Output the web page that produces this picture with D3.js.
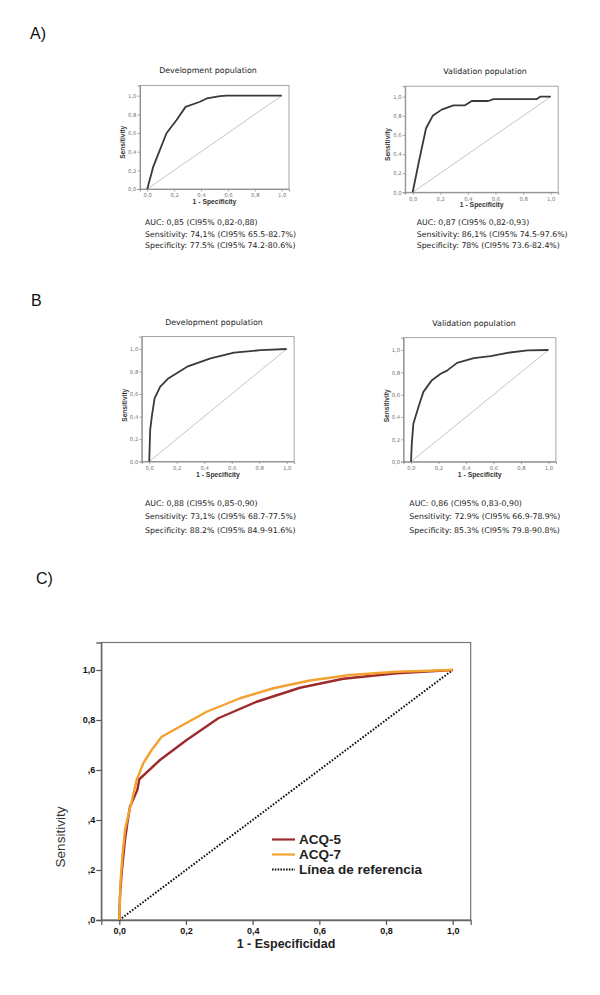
<!DOCTYPE html>
<html>
<head>
<meta charset="utf-8">
<script src="https://cdn.jsdelivr.net/npm/d3@7"></script>
<style>
  body { margin: 0; background: #fff; }
  svg { display: block; }
</style>
</head>
<body>
<svg id="chart" width="600" height="995"></svg>
<script>
// ROC points [1 - specificity, sensitivity]
const rocDevA = [[0, 0], [0.045, 0.24], [0.094, 0.42], [0.144, 0.6], [0.218, 0.74], [0.285, 0.88], [0.392, 0.935], [0.442, 0.97], [0.541, 0.995], [0.59, 1], [1, 1]];
const rocValA = [[0, 0], [0.048, 0.34], [0.097, 0.67], [0.145, 0.8], [0.21, 0.865], [0.295, 0.91], [0.379, 0.91], [0.428, 0.955], [0.548, 0.955], [0.585, 0.975], [0.899, 0.975], [0.923, 1], [1, 1]];
const rocDevB = [[0, 0], [0.007, 0.28], [0.02, 0.41], [0.039, 0.56], [0.08, 0.665], [0.141, 0.74], [0.276, 0.843], [0.446, 0.917], [0.617, 0.967], [0.812, 0.99], [1, 1]];
const rocValB = [[0, 0], [0.005, 0.15], [0.017, 0.34], [0.054, 0.49], [0.09, 0.625], [0.152, 0.73], [0.213, 0.785], [0.262, 0.815], [0.335, 0.885], [0.457, 0.928], [0.579, 0.946], [0.702, 0.975], [0.848, 0.996], [1, 1]];
const rocAcq5 = [[0, 0], [0.002, 0.093], [0.007, 0.187], [0.017, 0.32], [0.024, 0.387], [0.032, 0.453], [0.054, 0.52], [0.06, 0.563], [0.122, 0.64], [0.202, 0.72], [0.297, 0.807], [0.412, 0.873], [0.542, 0.929], [0.672, 0.965], [0.832, 0.987], [1, 1]];
const rocAcq7 = [[0, 0], [0.004, 0.16], [0.01, 0.267], [0.017, 0.36], [0.027, 0.42], [0.037, 0.473], [0.052, 0.56], [0.072, 0.627], [0.097, 0.68], [0.127, 0.733], [0.262, 0.833], [0.362, 0.887], [0.462, 0.927], [0.572, 0.958], [0.692, 0.98], [0.832, 0.993], [1, 1]];
const refLine = [[0, 0], [1, 1]];

const tickValues = [0, 0.2, 0.4, 0.6, 0.8, 1.0];
const smallTickLabels = ["0,0", "0,2", "0,4", "0,6", "0,8", "1,0"];
const cTickLabelsX = ["0,0", "0,2", "0,4", "0,6", "0,8", "1,0"];
const cTickLabelsY = [",0", ",2", ",4", ",6", "0,8", "1,0"];

const statsDevA = ["AUC: 0,85 (CI95% 0,82-0,88)", "Sensitivity: 74,1% (CI95% 65.5-82.7%)", "Specificity: 77.5% (CI95% 74.2-80.6%)"];
const statsValA = ["AUC: 0,87 (CI95% 0,82-0,93)", "Sensitivity: 86,1% (CI95% 74.5-97.6%)", "Specificity: 78% (CI95% 73.6-82.4%)"];
const statsDevB = ["AUC: 0,88 (CI95% 0,85-0,90)", "Sensitivity: 73,1% (CI95% 68.7-77.5%)", "Specificity: 88.2% (CI95% 84.9-91.6%)"];
const statsValB = ["AUC: 0,86 (CI95% 0,83-0,90)", "Sensitivity: 72.9% (CI95% 66.9-78.9%)", "Specificity: 85.3% (CI95% 79.8-90.8%)"];

const legendNames = ["ACQ-5", "ACQ-7", "Línea de referencia"];

const svg = d3.select("#chart");
const sans = "'DejaVu Sans', sans-serif";
const arial = "'Liberation Sans', Arial, sans-serif";

// section labels
[["A)", 30, 39], ["B", 31, 306], ["C)", 36, 584]].forEach(([t, x, y]) => {
  svg.append("text").attr("x", x).attr("y", y)
    .attr("font-family", arial).attr("font-size", 16).attr("fill", "#111").text(t);
});

// small SPSS-style ROC panel
function smallPanel(box, title, titleX, data, stats, statsX, statsY, statsGap) {
  const x = d3.scaleLinear().domain([-0.054, 1.054]).range([box.left, box.right]);
  const y = d3.scaleLinear().domain([0, 1.11]).range([box.bottom, box.top]);
  const g = svg.append("g");

  g.append("rect")
    .attr("x", box.left).attr("y", box.top)
    .attr("width", box.right - box.left).attr("height", box.bottom - box.top)
    .attr("fill", "none").attr("stroke", "#999").attr("stroke-width", 0.9);

  const yAxis = d3.axisLeft(y).tickValues(tickValues).tickSize(2.5)
    .tickFormat((d, i) => smallTickLabels[i]);
  const xAxis = d3.axisBottom(x).tickValues(tickValues).tickSize(2.5)
    .tickFormat((d, i) => smallTickLabels[i]);

  const ya = g.append("g").attr("transform", `translate(${box.left},0)`).call(yAxis);
  const xa = g.append("g").attr("transform", `translate(0,${box.bottom})`).call(xAxis);
  [ya, xa].forEach(a => {
    a.select(".domain").attr("stroke", "#888").attr("stroke-width", 0.9);
    a.selectAll(".tick line").attr("stroke", "#888").attr("stroke-width", 0.7);
    a.selectAll(".tick text").attr("font-family", sans).attr("font-size", 5.3).attr("fill", "#777");
  });
  ya.selectAll(".tick text").attr("x", -3.5);
  xa.selectAll(".tick text").attr("y", 4.5);

  g.append("path").datum(refLine)
    .attr("d", d3.line().x(d => x(d[0])).y(d => y(d[1])))
    .attr("fill", "none").attr("stroke", "#aaa").attr("stroke-width", 0.7);

  g.append("path").datum(data)
    .attr("d", d3.line().x(d => x(d[0])).y(d => y(d[1])))
    .attr("fill", "none").attr("stroke", "#3a3a3a").attr("stroke-width", 1.8)
    .attr("stroke-linejoin", "round");

  g.append("text")
    .attr("x", titleX).attr("y", box.top - 12)
    .attr("text-anchor", "middle").attr("font-family", sans).attr("font-size", 7.9)
    .attr("fill", "#222").text(title);

  g.append("text")
    .attr("x", (x(0) + x(1)) / 2).attr("y", box.bottom + 15)
    .attr("text-anchor", "middle").attr("font-family", arial).attr("font-weight", "bold")
    .attr("font-size", 6.8).attr("fill", "#333").text("1 - Specificity");

  g.append("text")
    .attr("transform", `translate(${box.left - 15},${(y(0) + y(1)) / 2}) rotate(-90)`)
    .attr("text-anchor", "middle").attr("font-family", arial).attr("font-weight", "bold")
    .attr("font-size", 6.6).attr("fill", "#333").text("Sensitivity");

  g.selectAll(".stat").data(stats).enter().append("text")
    .attr("x", statsX).attr("y", (d, i) => statsY + i * statsGap)
    .attr("font-family", sans).attr("font-size", 7.8).attr("fill", "#222").text(d => d);
}

smallPanel({ left: 140, right: 289, top: 85.4, bottom: 189 }, "Development population", 208, rocDevA, statsDevA, 145, 225, 11.7);
smallPanel({ left: 405.2, right: 558.2, top: 86.2, bottom: 192.3 }, "Validation population", 485, rocValA, statsValA, 416.7, 225, 11.7);
smallPanel({ left: 141.8, right: 294.1, top: 336.6, bottom: 461.5 }, "Development population", 214, rocDevB, statsDevB, 145, 505.5, 13.8);
smallPanel({ left: 403.6, right: 555.9, top: 337.7, bottom: 461.7 }, "Validation population", 474, rocValB, statsValB, 409.3, 505.5, 13.8);

// panel C
const cBox = { left: 101.3, right: 470.7, top: 642.5, bottom: 920 };
const cx = d3.scaleLinear().domain([-0.054, 1.054]).range([cBox.left, cBox.right]);
const cy = d3.scaleLinear().domain([0, 1.11]).range([cBox.bottom, cBox.top]);
const gc = svg.append("g");

gc.append("rect")
  .attr("x", cBox.left).attr("y", cBox.top)
  .attr("width", cBox.right - cBox.left).attr("height", cBox.bottom - cBox.top)
  .attr("fill", "none").attr("stroke", "#777").attr("stroke-width", 1.2);

const cya = gc.append("g").attr("transform", `translate(${cBox.left},0)`)
  .call(d3.axisLeft(cy).tickValues(tickValues).tickSize(5).tickFormat((d, i) => cTickLabelsY[i]));
const cxa = gc.append("g").attr("transform", `translate(0,${cBox.bottom})`)
  .call(d3.axisBottom(cx).tickValues(tickValues).tickSize(5).tickFormat((d, i) => cTickLabelsX[i]));
[cya, cxa].forEach(a => {
  a.select(".domain").attr("stroke", "#666").attr("stroke-width", 1.3);
  a.selectAll(".tick line").attr("stroke", "#555").attr("stroke-width", 1.2);
  a.selectAll(".tick text").attr("font-family", arial).attr("font-weight", "bold")
    .attr("font-size", 9).attr("fill", "#111");
});
cya.selectAll(".tick text").attr("x", -6);
cxa.selectAll(".tick text").attr("y", 8);

gc.append("path").datum(refLine)
  .attr("d", d3.line().x(d => cx(d[0])).y(d => cy(d[1])))
  .attr("fill", "none").attr("stroke", "#111").attr("stroke-width", 2)
  .attr("stroke-dasharray", "1.6,1.6");

const cColors = ["#9e2b2c", "#f3a12f"];
[rocAcq5, rocAcq7].forEach((data, i) => {
  gc.append("path").datum(data)
    .attr("d", d3.line().x(d => cx(d[0])).y(d => cy(d[1])))
    .attr("fill", "none").attr("stroke", cColors[i]).attr("stroke-width", 2.4)
    .attr("stroke-linejoin", "round");
});

gc.append("text")
  .attr("x", (cx(0) + cx(1)) / 2).attr("y", 948)
  .attr("text-anchor", "middle").attr("font-family", arial).attr("font-weight", "bold")
  .attr("font-size", 12.5).attr("fill", "#222").text("1 - Especificidad");

gc.append("text")
  .attr("transform", `translate(65,837) rotate(-90)`)
  .attr("text-anchor", "middle").attr("font-family", arial)
  .attr("font-size", 13.5).attr("fill", "#333").text("Sensitivity");

// legend
const legend = gc.selectAll(".leg").data(legendNames).enter().append("g")
  .attr("transform", (d, i) => `translate(272,${839.5 + i * 15})`);
legend.append("line")
  .attr("x1", 0).attr("x2", 23).attr("y1", 0).attr("y2", 0)
  .attr("stroke", (d, i) => i < 2 ? cColors[i] : "#111")
  .attr("stroke-width", (d, i) => i < 2 ? 2.2 : 2)
  .attr("stroke-dasharray", (d, i) => i < 2 ? null : "1.6,1.2");
legend.append("text")
  .attr("x", 27).attr("y", 4.8)
  .attr("font-family", arial).attr("font-weight", "bold").attr("font-size", 13.5)
  .attr("fill", "#222").text(d => d);
</script>
</body>
</html>
